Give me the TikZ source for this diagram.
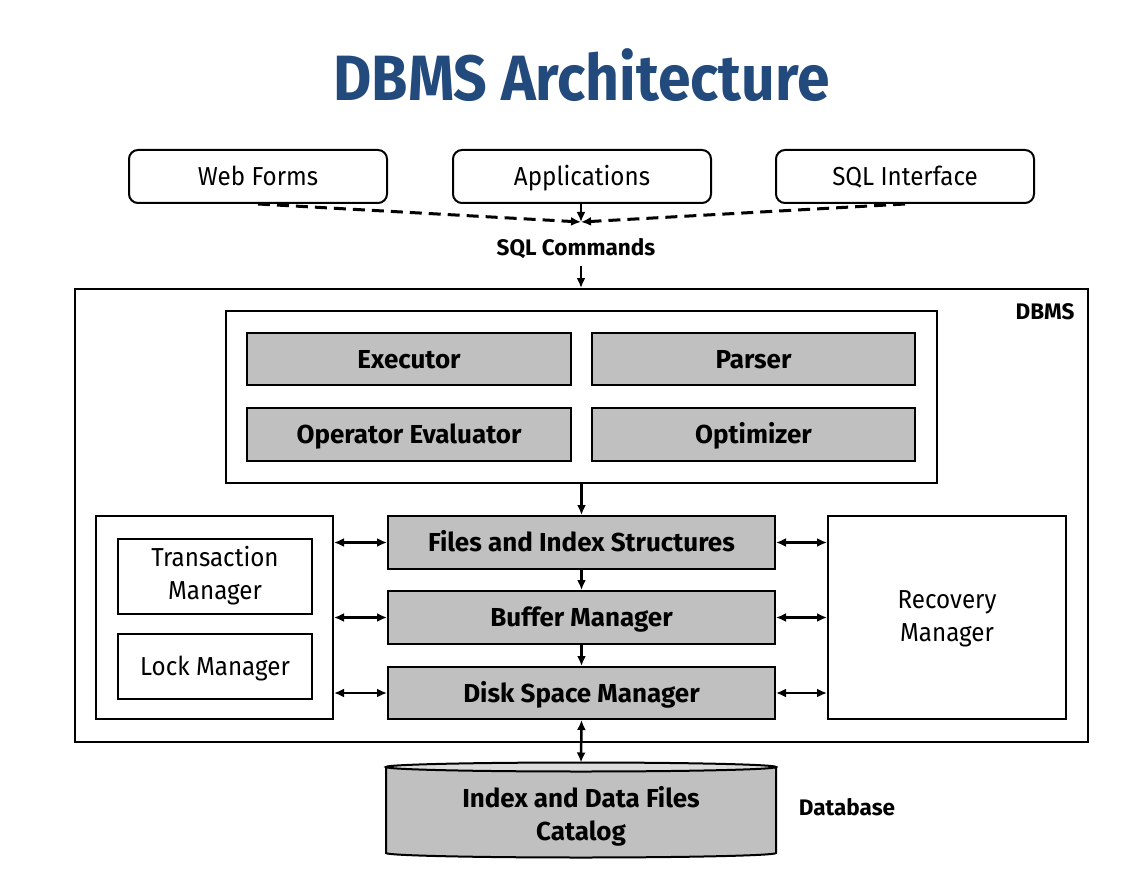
\documentclass[tikz,border=0pt]{standalone}
\usepackage{fontspec}
\setmainfont{Fira Sans}
\newfontfamily\regfont{Fira Sans}[FakeStretch=0.93]
\newfontfamily\titlefont{Fira Sans}[FakeStretch=0.92]
\usetikzlibrary{arrows.meta}
\definecolor{titleblue}{RGB}{35,74,124}
\definecolor{boxgray}{RGB}{192,192,192}
\definecolor{topgray}{RGB}{220,220,220}
\begin{document}
\begin{tikzpicture}[x=1pt,y=-1pt,
  txt/.style={font=\regfont\fontsize{26}{33}\selectfont},
  bld/.style={font=\bfseries\fontsize{26}{33}\selectfont},
  oneline/.style={text height=18.5pt, text depth=0pt},
  lbl/.style={font=\bfseries\fontsize{22.5}{27}\selectfont, text height=16pt, text depth=0pt, inner sep=0pt},
  roundbox/.style={draw, line width=2pt, rounded corners=9pt, minimum width=258pt, minimum height=53pt, inner sep=0pt, txt, oneline},
  graybox/.style={draw, line width=2pt, fill=boxgray, inner sep=0pt, bld, oneline},
  whitebox/.style={draw, line width=2pt, inner sep=0pt, txt, align=center},
  arr/.style={line width=2.5pt, -{Latex[length=10pt,width=9pt]}},
  darr/.style={line width=2.5pt, {Latex[length=10pt,width=9pt]}-{Latex[length=10pt,width=9pt]}},
  dashedarr/.style={line width=3pt, dash pattern=on 12pt off 7pt, -{Latex[length=10pt,width=9pt]}},
]
\useasboundingbox (0,0) rectangle (1143,896);

\node[font=\titlefont\bfseries\fontsize{64}{70}\selectfont, text=titleblue] (title) at (581.5,75) {DBMS Architecture};

\node[roundbox] (web) at (258,176.5) {Web Forms};
\node[roundbox] (app) at (582,176.5) {Applications};
\node[roundbox] (sqli) at (905,176.5) {SQL Interface};
\coordinate (conv) at (581,222);
\draw[dashedarr] (web.south) -- (conv);
\draw[dashedarr] (sqli.south) -- (conv);
\draw[arr] (app.south -| conv) -- (conv);

\node[lbl] (sqlc) at (576,247) {SQL Commands};
\coordinate (sqlout) at (581,266);

\node[draw, line width=2pt, minimum width=1013pt, minimum height=453pt, inner sep=0pt] (dbms) at (581.5,515.5) {};
\node[lbl] (dbmslbl) at (1045,311) {DBMS};
\draw[arr] (sqlout) -- (sqlout |- dbms.north);

\node[draw, line width=2pt, minimum width=711pt, minimum height=172pt, inner sep=0pt] (qe) at (581.5,397) {};
\node[graybox, minimum width=324pt, minimum height=52pt] (exec) at (409,359) {Executor};
\node[graybox, minimum width=323pt, minimum height=52pt] (parser) at (753.5,359) {Parser};
\node[graybox, minimum width=324pt, minimum height=53pt] (opeval) at (409,434.5) {Operator Evaluator};
\node[graybox, minimum width=323pt, minimum height=53pt] (optim) at (753.5,434.5) {Optimizer};

\node[graybox, minimum width=387pt, minimum height=53pt] (files) at (581.5,542.5) {Files and Index Structures};
\node[graybox, minimum width=387pt, minimum height=53pt] (buffer) at (581.5,617.5) {Buffer Manager};
\node[graybox, minimum width=387pt, minimum height=52pt] (disk) at (581.5,693) {Disk Space Manager};
\draw[arr] (qe.south -| files.north) -- (files.north);
\draw[arr] (files.south) -- (buffer.north);
\draw[arr] (buffer.south) -- (disk.north);

\node[whitebox, minimum width=237pt, minimum height=203pt] (left) at (214.5,617.5) {};
\node[whitebox, minimum width=194pt, minimum height=75pt] (trans) at (215,576) {Transaction\\Manager};
\node[whitebox, oneline, minimum width=194pt, minimum height=65pt] (lock) at (215,666.5) {Lock Manager};
\node[whitebox, minimum width=238pt, minimum height=203pt] (recov) at (947,617.5) {};
\node[txt, align=center] (recovtxt) at (947,619) {Recovery\\Manager};

\foreach \b in {files,buffer,disk}{
  \draw[darr] (left.east |- \b.west) -- (\b.west);
  \draw[darr] (\b.east) -- (recov.west |- \b.east);
}

% database cylinder
\filldraw[fill=boxgray, line width=2pt] (386,767) -- (386,853) arc[start angle=180, end angle=360, x radius=195pt, y radius=4.5pt] -- (776,767) -- cycle;
\filldraw[fill=topgray, line width=2pt] (581,767) ellipse [x radius=195pt, y radius=4.5pt];
\coordinate (dbtop) at (581,762.5);
\node[bld, align=center] (db) at (581,816) {Index and Data Files\\Catalog};
\node[lbl] (dblbl) at (847,807) {Database};
\draw[darr] (disk.south) -- (dbtop);
\end{tikzpicture}
\end{document}
